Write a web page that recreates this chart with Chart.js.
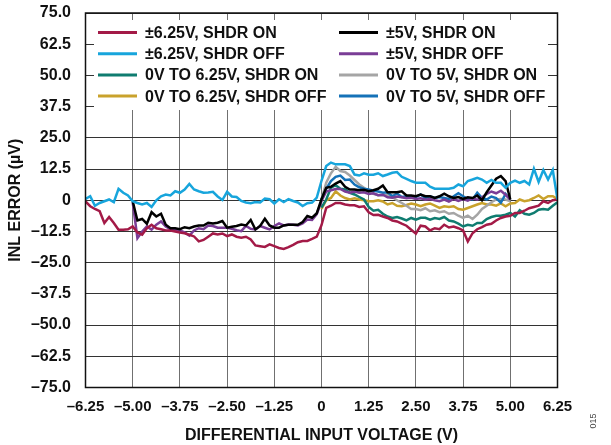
<!DOCTYPE html>
<html>
<head>
<meta charset="utf-8">
<script src="https://cdn.jsdelivr.net/npm/chart.js@4.4.1/dist/chart.umd.min.js"></script>
<style>
  html, body { margin: 0; padding: 0; background: #fff; }
  canvas { display: block; }
</style>
</head>
<body>
<canvas id="inl" width="611" height="445"></canvas>
<script>
// sweep step of every trace, volts
const STEP = 0.125;

// INL error (uV), one value every 0.125 V
// ±6.25V range, starts at -6.25 V
const sixOn = [
  -0.5, -2.4, -3.5, -4.4, -9.1, -6.7, -9.1, -11.8,
  -11.8, -11.6, -10.5, -12.9, -13.8, -11.2, -9.8, -11.2,
  -11.6, -12.1, -12.1, -12.5, -12.9, -13.2, -13.8, -14.5,
  -16.5, -15.9, -14.6, -13.3, -13.7, -13.3, -14.4, -13.7,
  -14.6, -15.0, -14.6, -15.7, -18.1, -18.4, -18.7, -17.7,
  -18.4, -19.1, -19.5, -18.8, -17.9, -16.8, -16.3, -16.3,
  -15.5, -14.6, -10.0, -3.1, -2.2, -1.1, -1.1, -1.7,
  -2.0, -2.0, -2.7, -2.4, -4.8, -5.9, -5.8, -6.5,
  -7.1, -8.1, -8.5, -9.4, -10.2, -11.8, -13.4, -10.2,
  -10.5, -12.1, -11.2, -11.6, -9.8, -10.9, -10.5, -11.2,
  -12.1, -16.5, -13.2, -11.6, -10.8, -9.8, -9.4, -8.1,
  -7.1, -6.5, -6.2, -5.1, -5.1, -4.2, -3.2, -2.7,
  -2.2, -0.4, -1.1, 0, 0.3
];
const sixOff = [
  0.5, 1.6, -2.2, -1.1, -0.4, 0.3, -0.8, 4.6,
  3.0, 1.9, -0.4, -1.1, -1.7, -1.1, -2.7, 0,
  1.6, 2.3, 1.9, 3.6, 3.0, 4.3, 6.5, 4.3,
  3.6, 3.0, 3.1, 3.4, 1.5, 0.1, 3.4, 1.5,
  1.3, -0.3, -0.9, -1.2, -0.7, -0.9, 0.7, 0.4,
  -1.3, 0.4, -0.7, 0.4, -0.3, -0.9, -2.3, -1.2,
  -0.9, 1.1, 7.8, 13.7, 15.1, 14.4, 14.4, 14.4,
  13.7, 10.3, 9.9, 10.8, 10.2, 10.2, 10.8, 9.7,
  10.3, 11.0, 11.3, 9.4, 8.6, 7.7, 7.0, 7.0,
  7.0, 5.4, 4.6, 4.6, 4.6, 4.6, 5.0, 6.3,
  5.6, 7.7, 8.3, 9.0, 8.3, 7.0, 8.1, 7.0,
  7.0, 5.0, 7.0, 7.9, 7.0, 7.7, 6.3, 12.6,
  7.3, 12.1, 8.3, 12.1, 0.3
];
// 0V to 6.25V range, starts at 0 V
const sixOnUni = [
  -3.0, 0.3, 5.0, 6.0, 4.6, 4.3, 3.0, 2.3,
  1.3, 0.3, -2.7, -4.2, -3.8, -5.4, -6.5, -7.1,
  -6.7, -7.3, -8.1, -7.1, -7.8, -7.0, -7.0, -7.8,
  -7.1, -7.5, -6.7, -8.1, -8.5, -9.4, -10.5, -9.8,
  -10.2, -9.1, -9.1, -7.5, -6.7, -6.2, -6.2, -5.8,
  -5.1, -6.5, -4.0, -5.4, -5.8, -5.1, -3.8, -3.5,
  -3.8, -2.2, -0.8
];
const sixOffUni = [
  -3.5, 0, 0.9, 3.6, 1.9, 0.9, 0.3, 0.8,
  0.3, 0, -0.4, -0.4, 0, -0.5, -1.7, -1.1,
  -2.2, -2.4, -1.9, -1.3, -1.7, -2.4, -1.7, -1.3,
  -2.2, -3.1, -2.4, -2.7, -2.4, -3.5, -3.8, -3.1,
  -2.4, -1.7, -1.1, -1.7, -1.7, -2.2, -1.3, -2.4,
  -1.3, -1.1, 0.3, -0.4, 0, 0.9, 1.9, 0.5,
  1.6, 1.6, 0.5
];
// ±5V range, starts at -5 V
const fiveOn = [
  -0.4, -8.1, -7.5, -9.4, -4.8, -6.5, -5.4, -9.8,
  -11.2, -11.2, -11.6, -10.8, -11.2, -10.5, -10.1, -10.1,
  -9.0, -9.3, -9.0, -8.3, -11.0, -10.6, -10.3, -9.7,
  -10.1, -7.9, -11.7, -10.3, -7.4, -10.1, -11.0, -11.0,
  -10.1, -9.8, -9.8, -9.8, -8.7, -6.3, -7.0, -5.2,
  0.4, 5.0, 5.4, 6.7, 7.7, 5.4, 4.3, 4.3,
  4.0, 4.2, 3.6, 4.0, 4.6, 5.9, 3.2, 3.2,
  3.2, 3.6, 1.9, 1.9, 1.6, 2.3, 1.6, 1.6,
  0.9, 1.6, 2.6, 1.6, 0.9, 1.3, 0.5, 1.2,
  0.9, 1.9, 0, 3.2, 5.9, 8.6, 9.7, 7.7,
  0.3
];
const fiveOff = [
  -0.8, -15.2, -12.5, -10.5, -11.8, -9.8, -8.5, -10.5,
  -11.6, -11.8, -12.1, -12.9, -14.2, -12.1, -11.2, -11.6,
  -10.1, -10.3, -11.0, -11.0, -11.0, -11.4, -12.0, -12.4,
  -10.3, -11.4, -11.7, -10.3, -11.0, -11.7, -10.3, -9.3,
  -10.1, -9.7, -9.8, -10.1, -9.3, -7.7, -7.9, -5.6,
  -0.3, 3.5, 4.0, 4.5, 4.5, 3.5, 3.0, 3.5,
  3.0, 3.2, 2.5, 2.8, 2.0, 2.2, 1.2, 1.0,
  1.5, 1.2, 0.8, 1.0, 0.5, 0.8, 0.2, 0.5,
  0.0, -0.4, 0.3, -0.5, 0.5, -0.3, 0.5, -0.2,
  0.8, 0.2, 1.2, 2.5, 3.5, 2.8, 3.8, 2.2,
  0.3
];
// 0V to 5V range, starts at 0 V
const fiveOnUni = [
  0.3, 7.0, 10.8, 13.4, 11.7, 11.3, 9.9, 8.1,
  6.3, 5.0, 3.6, 2.6, 2.0, 2.0, 2.3, 1.3,
  0, -1.1, -2.2, -3.5, -3.5, -4.0, -3.2, -4.4,
  -4.0, -4.8, -4.4, -5.4, -5.1, -6.2, -7.1, -6.2,
  -7.5, -5.8, -3.5, -2.2, -0.8, 0.3, 0.5, 0.3,
  -0.4
];
const fiveOffUni = [
  0.3, 4.6, 7.7, 9.4, 9.9, 8.1, 8.3, 6.3,
  5.2, 4.6, 4.3, 3.8, 3.5, 3.0, 3.2, 1.6,
  2.7, 1.3, 1.6, 1.6, 1.3, 2.3, 0.9, 1.6,
  0.9, 1.3, 0.9, 0.5, 1.6, 2.8, 1.6, 0.5,
  0.3, 3.0, 1.0, 0.3, 1.5, 0.9, -1.0, 2.5,
  0.3
];

// legend order: first column then second column
const legendLabels = [
  '±6.25V, SHDR ON', '±6.25V, SHDR OFF', '0V TO 6.25V, SHDR ON', '0V TO 6.25V, SHDR OFF',
  '±5V, SHDR ON', '±5V, SHDR OFF', '0V TO 5V, SHDR ON', '0V TO 5V, SHDR OFF'
];
const seriesData = [sixOn, sixOff, sixOnUni, sixOffUni, fiveOn, fiveOff, fiveOnUni, fiveOffUni];
const seriesStart = [-6.25, -6.25, 0, 0, -5, -5, 0, 0];
const lineColors = ['#a31a47', '#17a5dc', '#0f7c70', '#c9a22c', '#000000', '#7a3d96', '#a5a5a5', '#1572b8'];
const drawOrder = [2, 0, 6, 7, 1, 3, 5, 4]; // lower = on top

function toPoints(start, vals) {
  return vals.map((v, i) => ({ x: start + i * STEP, y: v }));
}

function fmt(v, digits) {
  if (v === 0) return '0';
  return (v < 0 ? '\u2013' : '') + Math.abs(v).toFixed(digits);
}

const FONT = '"Liberation Sans", Arial, sans-serif';

const frameAndLegend = {
  id: 'frameAndLegend',
  beforeDatasetsDraw(chart) {
    const { ctx, chartArea: a } = chart;
    ctx.save();
    // legend box hides the grid
    ctx.fillStyle = '#fff';
    ctx.fillRect(a.left + 8.5, a.top + 7, a.right - a.left - 18, 90);
    ctx.font = 'bold 16px ' + FONT;
    ctx.textBaseline = 'middle';
    ctx.fillStyle = '#111';
    ctx.lineWidth = 3;
    for (let i = 0; i < legendLabels.length; i++) {
      const col = Math.floor(i / 4), row = i % 4;
      const y = a.top + 19.5 + row * 21.2;
      const x0 = a.left + (col ? 253.5 : 12.5);
      ctx.strokeStyle = lineColors[i];
      ctx.beginPath();
      ctx.moveTo(x0, y);
      ctx.lineTo(x0 + 39, y);
      ctx.stroke();
      ctx.fillText(legendLabels[i], x0 + 47, y + 1);
    }
    ctx.restore();
  },
  afterDatasetsDraw(chart) {
    const { ctx, chartArea: a } = chart;
    ctx.save();
    ctx.strokeStyle = '#111';
    ctx.lineWidth = 1.5;
    ctx.strokeRect(a.left, a.top, a.right - a.left, a.bottom - a.top);
    ctx.restore();
  },
  afterDraw(chart) {
    const ctx = chart.ctx;
    ctx.save();
    ctx.translate(594, 421);
    ctx.rotate(-Math.PI / 2);
    ctx.font = '9px ' + FONT;
    ctx.fillStyle = '#444';
    ctx.textAlign = 'center';
    ctx.textBaseline = 'middle';
    ctx.fillText('015', 0, 0);
    ctx.restore();
  }
};

new Chart(document.getElementById('inl'), {
  type: 'line',
  data: {
    datasets: seriesData.map((vals, i) => ({
      label: legendLabels[i],
      data: toPoints(seriesStart[i], vals),
      borderColor: lineColors[i],
      borderWidth: 2.5,
      pointRadius: 0,
      tension: 0,
      fill: false,
      order: drawOrder[i]
    }))
  },
  options: {
    responsive: false,
    devicePixelRatio: 1,
    animation: false,
    layout: { padding: { top: 13, right: 53.5, left: 0, bottom: 0 } },
    plugins: { legend: { display: false }, tooltip: { enabled: false } },
    scales: {
      x: {
        type: 'linear',
        min: -6.25,
        max: 6.25,
        afterFit: s => { s.height = 57.5; s.paddingLeft = 0; s.paddingRight = 0; },
        border: { display: false },
        grid: { color: '#707070', lineWidth: 1, drawTicks: false },
        ticks: {
          stepSize: 1.25,
          padding: 10,
          maxRotation: 0,
          autoSkip: false,
          color: '#111',
          font: { family: FONT, size: 15, weight: 'bold' },
          callback: v => fmt(v, 2)
        },
        title: {
          display: true,
          text: 'DIFFERENTIAL INPUT VOLTAGE (V)',
          color: '#111',
          font: { family: FONT, size: 16, weight: 'bold' },
          padding: { top: 0, bottom: 0 }
        }
      },
      y: {
        min: -75,
        max: 75,
        // fixed width; drop the label overhang so the layout padding rules
        afterFit: s => { s.width = 85.5; s.paddingTop = 0; s.paddingBottom = 0; },
        border: { display: false },
        grid: { color: '#333', lineWidth: 1, drawTicks: false },
        ticks: {
          stepSize: 12.5,
          padding: 14.5,
          color: '#111',
          font: { family: FONT, size: 16, weight: 'bold' },
          callback: v => fmt(v, 1)
        },
        title: {
          display: true,
          text: 'INL ERROR (µV)',
          color: '#111',
          font: { family: FONT, size: 16, weight: 'bold' },
          padding: { top: 6, bottom: 0 }
        }
      }
    }
  },
  plugins: [frameAndLegend]
});
</script>
</body>
</html>
